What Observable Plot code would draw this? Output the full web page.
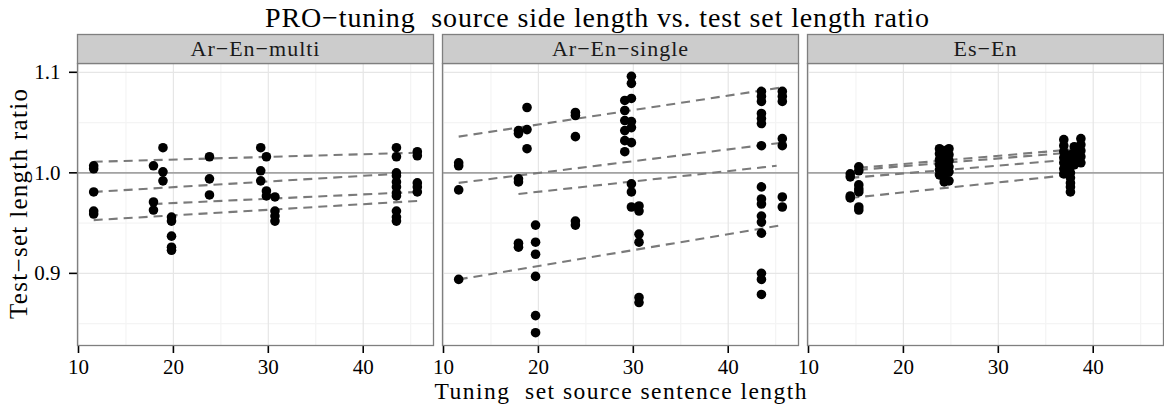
<!DOCTYPE html>
<html>
<head>
<meta charset="utf-8">
<script src="https://cdn.jsdelivr.net/npm/d3@7"></script>
<script src="https://cdn.jsdelivr.net/npm/@observablehq/plot@0.6"></script>
<style>
  html, body { margin: 0; padding: 0; background: #fff; }
  #chart { width: 1164px; height: 405px; position: relative; overflow: hidden; }
  svg { font-family: "Liberation Serif", serif; }
  svg g[aria-label$="-axis tick"] { stroke: #222; stroke-width: 1.6px; }
  svg g[aria-label$="-axis tick label"] { fill: #000; }
</style>
</head>
<body>
<div id="chart"></div>
<script>
// ---- data ----
const facets = ["Ar−En−multi", "Ar−En−single", "Es−En"];
const xTicks = [10, 20, 30, 40];
const xMinorTicks = [15, 25, 35, 45];
const yTicks = [0.9, 1.0, 1.1];
const yMinorTicks = [0.85, 0.95, 1.05];
const refLine = [1.0];

const multiPoints = [
  [11.6, [1.007, 1.004, 0.981, 0.962, 0.959]],
  [17.9, [1.007, 0.971, 0.963]],
  [18.9, [1.025, 1.001, 0.992]],
  [19.8, [0.956, 0.952, 0.937, 0.926, 0.923]],
  [23.8, [1.016, 0.994, 0.978]],
  [29.2, [1.025, 1.002, 0.992]],
  [29.8, [1.016, 0.982, 0.977]],
  [30.7, [0.976, 0.962, 0.957, 0.952]],
  [43.5, [1.025, 1.016, 1.000, 0.997, 0.991, 0.986, 0.980, 0.977, 0.962, 0.956, 0.952]],
  [45.7, [1.021, 1.017, 0.990, 0.986, 0.981]]
];
const singlePoints = [
  [11.6, [1.010, 1.007, 0.983, 0.894]],
  [17.9, [1.042, 1.039, 0.994, 0.991, 0.930, 0.926]],
  [18.8, [1.065, 1.043, 1.024]],
  [19.7, [0.948, 0.931, 0.919, 0.897, 0.858, 0.841]],
  [23.9, [1.060, 1.057, 1.036, 0.952, 0.948]],
  [29.1, [1.072, 1.062, 1.052, 1.042, 1.032, 1.021]],
  [29.8, [1.096, 1.089, 1.074, 1.051, 1.045, 1.030, 0.989, 0.981, 0.966]],
  [30.6, [0.967, 0.962, 0.939, 0.931, 0.876, 0.871]],
  [43.5, [1.081, 1.076, 1.071, 1.059, 1.054, 1.049, 1.027, 0.986, 0.974, 0.969, 0.957, 0.951, 0.940, 0.900, 0.894, 0.879]],
  [45.7, [1.081, 1.076, 1.071, 1.034, 1.027, 0.976, 0.966]]
];
const esPoints = [
  [14.4, [0.999, 0.996, 0.977, 0.975]],
  [15.3, [1.006, 1.002, 0.988, 0.984, 0.981, 0.966, 0.963]],
  [23.8, [1.024, 1.019, 1.013, 1.008, 1.003, 0.998]],
  [24.3, [1.022, 1.016, 1.010, 1.005, 1.000, 0.995, 0.991]],
  [24.8, [1.024, 1.018, 1.012, 1.006, 1.001, 0.992]],
  [36.9, [1.033, 1.027, 1.021, 1.015, 1.010, 1.004, 0.999]],
  [37.6, [1.018, 1.012, 1.006, 1.000, 0.995, 0.990, 0.986, 0.981]],
  [38.0, [1.026, 1.020, 1.014, 1.008]],
  [38.7, [1.034, 1.028, 1.022, 1.016, 1.010]]
];

// fitted (dashed) lines: [x start, y start, x end, y end]
const multiFits = [[11.6, 1.011, 45.7, 1.020], [11.6, 0.981, 43.5, 0.999], [17.9, 0.969, 45.7, 0.981], [11.6, 0.953, 45.7, 0.972]];
const singleFits = [[11.6, 1.036, 45.7, 1.085], [11.6, 0.990, 45.7, 1.030], [17.9, 0.979, 45.1, 1.007], [11.6, 0.894, 45.7, 0.948]];
const esFits = [[15.3, 1.005, 38.7, 1.024], [15.3, 1.003, 38.7, 1.021], [14.4, 0.995, 38.7, 1.014], [14.4, 0.975, 37.6, 0.998]];

const titleText = "PRO−tuning  source side length vs. test set length ratio";
const xLabel = "Tuning  set source sentence length";
const yLabel = "Test−set length ratio";

// ---- build tables ----
const pointRows = [];
[multiPoints, singlePoints, esPoints].forEach((cols, i) => {
  cols.forEach(([x, ys]) => ys.forEach(y => pointRows.push({panel: facets[i], x, y})));
});
const fitRows = [];
[multiFits, singleFits, esFits].forEach((fits, i) => {
  fits.forEach(([x1, y1, x2, y2]) => fitRows.push({panel: facets[i], x1, y1, x2, y2}));
});

// ---- layout ----
const W = 1164, H = 405;
const mTop = 63, mBottom = 60, mLeft = 77, mRight = 0;
const panelH = H - mTop - mBottom;
const stripH = 29;
const yTitleCol = 30; // width of the y-axis title column

// x / y domains (ggplot 5% expansion of the data range)
const xr = d3.extent(pointRows, d => d.x), yr = d3.extent(pointRows, d => d.y);
const xPad = (xr[1] - xr[0]) * 0.05, yPad = (yr[1] - yr[0]) * 0.05;

const chart = Plot.plot({
  width: W, height: H,
  marginTop: mTop, marginBottom: mBottom, marginLeft: mLeft, marginRight: mRight,
  style: {fontFamily: "Liberation Serif, serif", fontSize: "21px", color: "#000", background: "#fff", overflow: "visible"},
  fx: {domain: facets, paddingInner: 0.0246, paddingOuter: 0, axis: null, label: null},
  x: {domain: [xr[0] - xPad, xr[1] + xPad], ticks: xTicks, tickSize: 8, tickPadding: 6, label: null},
  y: {domain: [yr[0] - yPad, yr[1] + yPad], ticks: yTicks, tickFormat: ".1f", tickSize: 8, tickPadding: 9, label: null},
  marks: [
    Plot.ruleX(xMinorTicks, {x: d => d, stroke: "#f4f4f4", strokeWidth: 1.2}),
    Plot.ruleY(yMinorTicks, {y: d => d, stroke: "#f4f4f4", strokeWidth: 1.2}),
    Plot.ruleX(xTicks, {x: d => d, stroke: "#e6e6e6", strokeWidth: 1.2}),
    Plot.ruleY(yTicks, {y: d => d, stroke: "#e6e6e6", strokeWidth: 1.2}),
    Plot.ruleY(refLine, {y: d => d, stroke: "#a3a3a3", strokeWidth: 1.8}),
    Plot.link(fitRows, {fx: "panel", x1: "x1", y1: "y1", x2: "x2", y2: "y2", stroke: "#7a7a7a", strokeWidth: 2.1, strokeDasharray: "9,6"}),
    Plot.dot(pointRows, {fx: "panel", x: "x", y: "y", r: 4.8, fill: "#000", stroke: "none"}),
    Plot.frame({stroke: "#7f7f7f", strokeWidth: 1.3}),
    Plot.frame({fill: "#cccccc", stroke: "#7f7f7f", strokeWidth: 1.3, insetTop: -stripH, insetBottom: panelH}),
    Plot.text(facets, {fx: d => d, text: d => d, frameAnchor: "top", lineAnchor: "middle", dy: -stripH / 2, fontSize: 22, fill: "#1a1a1a"})
  ]
});

const svg = d3.select(chart);
svg.selectAll('g[aria-label="text"] text').style("letter-spacing", "1px");
const cx = mLeft + (W - mLeft - mRight) / 2;

// title centred over everything right of the y-axis title column
svg.append("text")
  .attr("x", (yTitleCol + W) / 2).attr("y", 27)
  .attr("text-anchor", "middle")
  .attr("font-size", 28)
  .attr("textLength", 664).attr("lengthAdjust", "spacing")
  .style("white-space", "pre").attr("xml:space", "preserve")
  .attr("fill", "#000")
  .text(titleText);

svg.append("text")
  .attr("x", cx).attr("y", 399)
  .attr("text-anchor", "middle")
  .attr("font-size", 23.5)
  .attr("textLength", 372).attr("lengthAdjust", "spacing")
  .style("white-space", "pre").attr("xml:space", "preserve")
  .attr("fill", "#000")
  .text(xLabel);

svg.append("text")
  .attr("transform", `translate(27,${mTop + panelH / 2}) rotate(-90)`)
  .attr("text-anchor", "middle")
  .attr("font-size", 25)
  .attr("textLength", 230).attr("lengthAdjust", "spacing")
  .attr("fill", "#000")
  .text(yLabel);

document.getElementById("chart").appendChild(chart);
</script>
</body>
</html>
